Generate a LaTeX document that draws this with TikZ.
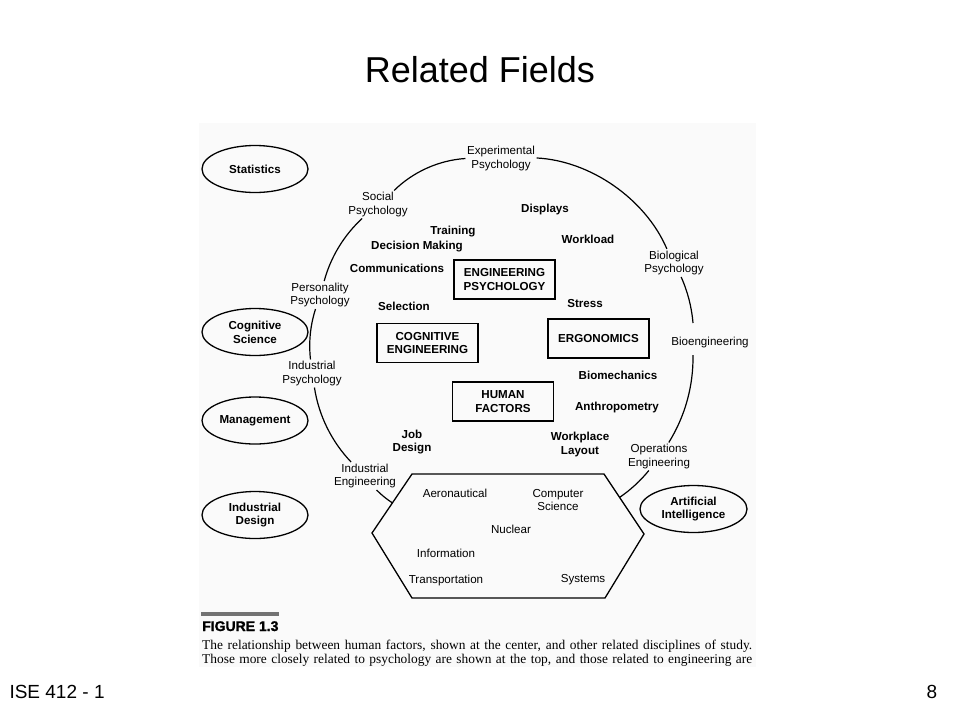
\documentclass[tikz,border=0pt]{standalone}
\usepackage{fontspec}
\setsansfont{Liberation Sans}
\renewcommand\familydefault{\sfdefault}
\newfontfamily\capserif{Liberation Serif}
\newfontfamily\figheavy[FakeBold=1.4]{Liberation Sans}
\usetikzlibrary{shapes.geometric, calc}
\newcommand\figfont{\fontsize{11.6}{13.8}\selectfont}
\newcommand\capfont{\capserif\fontsize{13.4}{15}\selectfont}

\begin{document}
\begin{tikzpicture}[
	x=1pt, y=1pt,
	lbl/.style   = {font=\figfont, align=center, inner sep=1.5pt},
	topic/.style = {font=\figfont\bfseries, align=center, inner sep=1.5pt},
	box/.style   = {draw, line width=1.3pt, font=\figfont\bfseries, align=center,
	                minimum width=101pt, minimum height=39pt},
	oval/.style  = {draw, ellipse, line width=1.3pt, font=\figfont\bfseries, align=center,
	                minimum width=106pt, minimum height=47pt, inner sep=0pt},
	ring/.style  = {line width=1.2pt, looseness=0.87},
	gy+/.style   = {yshift= 16pt},
	gy-/.style   = {yshift=-16pt}
	]
\useasboundingbox (0,0) rectangle (960,-720);
\fill[black!2] (199,-123) rectangle (756,-667);
%
\node (title) [font=\fontsize{36}{40}\selectfont] at (480,-70) {Related Fields};
\node (course) [anchor=west, font=\fontsize{19}{22}\selectfont] at (6,-692) {ISE 412 - 1};
\node (page) [font=\fontsize{19}{22}\selectfont] at (932,-692) {8};
%
\node (stat) [oval] at (255,-169) {Statistics};
\node (cogSci) [oval] at (255,-332) {Cognitive\\Science};
\node (mgmt) [oval] at (255,-420.5) {Management};
\node (indDes) [oval] at (255,-515) {Industrial\\Design};
\node (ai) [oval, minimum width=107pt] at (693.5,-509) {Artificial\\Intelligence};
%
\node (expPsy) [lbl] at (501,-158.5) {Experimental\\Psychology};
\node (socPsy) [lbl] at (378,-204.5) {Social\\Psychology};
\node (perPsy) [lbl] at (320,-295) {Personality\\Psychology};
\node (indPsy) [lbl] at (312,-373.5) {Industrial\\Psychology};
\node (indEng) [lbl] at (365,-476) {Industrial\\Engineering};
\node (opsEng) [lbl] at (659,-456.5) {Operations\\Engineering};
\node (bioEng) [lbl] at (710,-342) {Bioengineering};
\node (bioPsy) [lbl] at (674,-263) {Biological\\Psychology};
\coordinate (bioArc) at (693,-339);
%
\node (displays) [topic] at (545,-209) {Displays};
\node (training) [topic] at (453,-232) {Training};
\node (decision) [topic] at (417,-247) {Decision Making};
\node (workload) [topic] at (588,-239) {Workload};
\node (comms) [topic] at (397,-268) {Communications};
\node (selection) [topic] at (404,-306) {Selection};
\node (stress) [topic] at (585,-304) {Stress};
\node (biomech) [topic] at (618,-375) {Biomechanics};
\node (anthro) [topic] at (617,-407) {Anthropometry};
\node (jobDes) [topic] at (412,-442) {Job\\Design};
\node (layout) [topic] at (580,-444.5) {Workplace\\Layout};
%
\node (engPsy) [box] at (504.5,-279.5) {ENGINEERING\\PSYCHOLOGY};
\node (cogEng) [box] at (427.5,-343) {COGNITIVE\\ENGINEERING};
\node (ergo) [box] at (598.5,-338.5) {ERGONOMICS};
\node (hf) [box] at (503,-401.5) {HUMAN\\FACTORS};
%
\coordinate (hexTL) at (412,-474);
\coordinate (hexTR) at (604,-474);
\coordinate (hexR) at (644,-534);
\coordinate (hexBR) at (605,-598);
\coordinate (hexBL) at (412,-598);
\coordinate (hexL) at (372,-533);
\draw[line width=1.3pt, line join=miter]
	(hexTL) -- (hexTR) -- (hexR) -- (hexBR) -- (hexBL) -- (hexL) -- cycle;
\coordinate (ieEnd) at ($(hexTL)!0.49!(hexL)$);
\coordinate (oeEnd) at ($(hexTR)!0.39!(hexR)$);
%
\node (aero) [lbl] at (455,-493) {Aeronautical};
\node (compSci) [lbl] at (558,-500) {Computer\\Science};
\node (nuclear) [lbl] at (511,-529.5) {Nuclear};
\node (info) [lbl] at (446,-553) {Information};
\node (transp) [lbl] at (446,-580) {Transportation};
\node (systems) [lbl] at (583,-580) {Systems};
%
\draw[ring] (expPsy) to[bend right=20.5] (socPsy)
	(socPsy) to[bend right=16] (perPsy)
	(perPsy) to[bend right=12] (indPsy)
	(indPsy) to[bend right=17.5] (indEng)
	(indEng) to[bend right=6] (ieEnd);
\draw[ring] (expPsy) to[bend left=32] (bioPsy)
	(bioPsy) to[bend left=9.5] ([gy+] bioArc)
	([gy-] bioArc) to[bend left=16.4] (opsEng)
	(opsEng) to[bend left=8] (oeEnd);
%
\fill[black!55] (201,-612) rectangle (279,-615.5);
\node (figNo) [anchor=base west, inner sep=0pt, font=\figheavy\fontsize{14}{16}\selectfont\bfseries]
	at (202,-631) {FIGURE 1.3};
\node (cap1) [anchor=base west, inner sep=0pt, font=\capfont] at (202,-649)
	{\makebox[550pt][s]{The relationship between human factors, shown at the center, and other related disciplines of study.}};
\node (cap2) [anchor=base west, inner sep=0pt, font=\capfont] at (202,-663)
	{\makebox[550pt][s]{Those more closely related to psychology are shown at the top, and those related to engineering are}};
\end{tikzpicture}
\end{document}
